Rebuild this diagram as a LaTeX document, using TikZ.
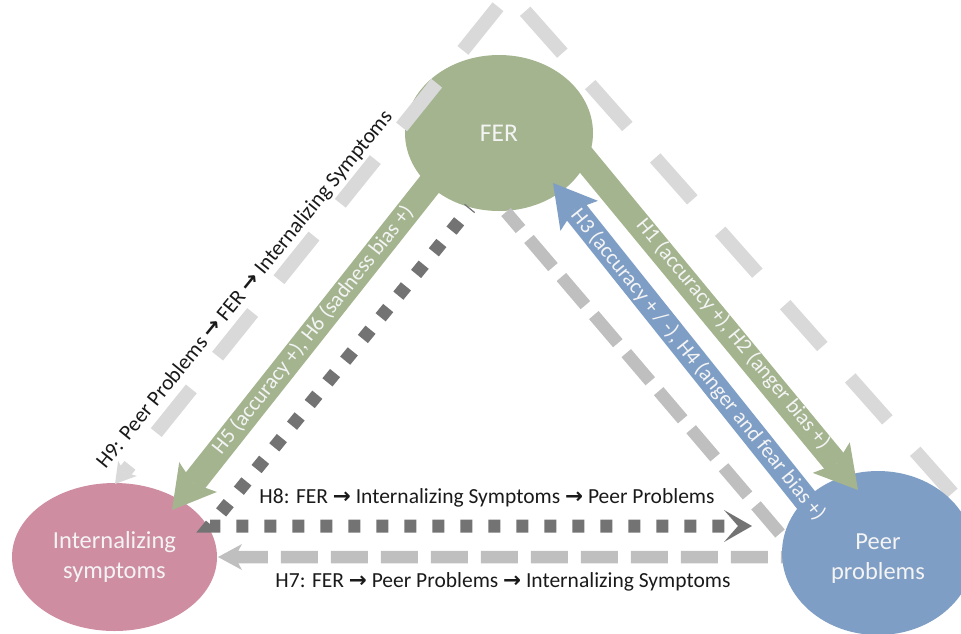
\documentclass[tikz,border=0pt]{standalone}
\usepackage{fontspec}
\setmainfont{Carlito}
\newfontfamily\arrfont{DejaVu Sans}
\usetikzlibrary{arrows.meta,shapes.geometric}
\newcommand{\ra}{{\arrfont\bfseries\char"2192}}
\definecolor{fergreen}{HTML}{A3B48F}
\definecolor{intpink}{HTML}{CF8DA2}
\definecolor{peerblue}{HTML}{7F9EC5}
\definecolor{dotgray}{HTML}{737373}
\definecolor{midgray}{HTML}{BFBFBF}
\definecolor{palegray}{HTML}{D9D9D9}
\definecolor{txtwhite}{HTML}{F4F4F4}
\definecolor{txtblack}{HTML}{1A1A1A}
\tikzset{
  ell/.style={ellipse, inner sep=0pt, text=txtwhite, font=\fontsize{24.5}{30}\selectfont, align=center},
  bigarrow/.style={line width=25pt, -{Stealth[length=42pt,width=48pt,inset=8pt,line width=0pt]}},
  h8line/.style={dotgray, line width=13pt, dash pattern=on 12pt off 16pt, dash phase=10.8pt,
     -{Stealth[length=28pt,width=32pt,inset=14pt,line width=0pt]}},
  h7line/.style={midgray, line width=12.5pt, dash pattern=on 37pt off 13pt, dash phase=14.6pt,
     -{Stealth[length=24pt,width=26pt,inset=7pt,line width=0pt]}},
  h9line/.style={palegray, line width=14pt, dash pattern=on 56pt off 42pt, dash phase=48.8pt,
     -{Stealth[length=20pt,width=24pt,inset=5pt,line width=0pt]}},
  lbl/.style={text=txtwhite, font=\fontsize{21.5}{24}\selectfont, inner sep=0pt},
  blk/.style={text=txtblack, font=\fontsize{21.5}{24}\selectfont, inner sep=0pt},
}
\begin{document}
\begin{tikzpicture}[x=1pt,y=-1pt]
\useasboundingbox (0,0) rectangle (961,633);
% ellipses FER and internalizing
\node[ell, fill=fergreen, minimum width=188pt, minimum height=156pt] (fer) at (499,133) {\fontsize{25.5}{30}\selectfont FER};
\node[ell, fill=intpink, minimum width=205pt, minimum height=148pt] (int) at (114.5,557) {Internalizing\\symptoms};
% H8 dotted path
\coordinate (h8s) at (470,208);
\coordinate (h8c) at (210,526);
\coordinate (h8e) at (752,526);
\draw[h8line] (h8s) -- (h8c) -- (h8e);
% H9 dashed path
\coordinate (h9s) at (985,530);
\coordinate (h9a) at (509,-7);
\coordinate (h9e) at (115,484);
\draw[h9line] (h9s) -- (h9a) -- (h9e);
% H7 dashed path
\coordinate (h7s) at (506,212);
\coordinate (h7c) at (800,557);
\coordinate (h7e) at (218,557);
\draw[h7line] (h7s) -- (h7c) -- (h7e);
% peer ellipse
\node[ell, fill=peerblue, minimum width=192pt, minimum height=164pt] (peer) at (878,553) {};
\node[ell] (peert) at (878,559) {Peer\\problems};
% thick arrows
\coordinate (h1s) at (565,135);
\coordinate (h1e) at (858,490);
\draw[bigarrow, color=fergreen] (h1s) -- (h1e);
\coordinate (h3s) at (830,530);
\coordinate (h3e) at (553,183);
\draw[bigarrow, color=peerblue] (h3s) -- (h3e);
\coordinate (h5s) at (437,175);
\coordinate (h5e) at (172,510);
\draw[bigarrow, color=fergreen] (h5s) -- (h5e);
% labels
\node[lbl, rotate=-50.4] (l1) at (733,334) {H1 (accuracy +), H2 (anger bias +)};
\node[lbl, rotate=-51.2] (l3) at (698,365) {H3 (accuracy + / -), H4 (anger and fear bias +)};
\node[lbl, rotate=51.6] (l5) at (313,330) {H5 (accuracy +), H6 (sadness bias +)};
\node[blk, rotate=50.8] (l9) at (245,290) {H9: Peer Problems \ra{} FER \ra{} Internalizing Symptoms};
\node[blk] (l8) at (487,498) {H8: FER \ra{} Internalizing Symptoms \ra{} Peer Problems};
\node[blk] (l7) at (503,582) {H7: FER \ra{} Peer Problems \ra{} Internalizing Symptoms};
\end{tikzpicture}
\end{document}
